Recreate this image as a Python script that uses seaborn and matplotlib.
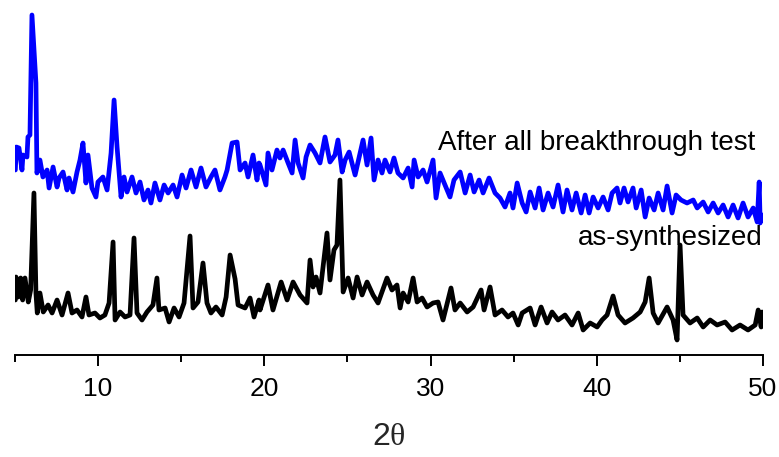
import matplotlib
matplotlib.use("Agg")
import matplotlib.pyplot as plt
import seaborn as sns
import pandas as pd
from matplotlib.ticker import MultipleLocator

# ---- data (2theta, intensity in arbitrary units) ----
after_2theta = [5.02, 5.08, 5.24, 5.42, 5.48, 5.72, 5.78, 5.90, 6.02, 6.26, 6.32, 6.50, 6.68, 6.93, 7.05,
                7.29, 7.53, 7.65, 7.89, 8.13, 8.25, 8.49, 8.73, 8.91, 9.09, 9.27, 9.39, 9.63, 9.87, 9.99,
                10.29, 10.54, 10.78, 10.96, 11.14, 11.38, 11.56, 11.74, 12.04, 12.28, 12.52, 12.76, 13.00,
                13.18, 13.42, 13.72, 13.97, 14.21, 14.51, 14.75, 15.05, 15.29, 15.59, 15.89, 16.19, 16.49,
                16.79, 17.03, 17.33, 17.63, 17.76, 18.06, 18.36, 18.54, 18.84, 19.02, 19.32, 19.56, 19.68,
                19.74, 20.10, 20.22, 20.46, 20.76, 20.94, 21.13, 21.43, 21.67, 21.85, 22.03, 22.33, 22.51,
                22.75, 23.05, 23.35, 23.65, 23.95, 24.25, 24.43, 24.68, 24.86, 25.10, 25.46, 25.76, 25.94,
                26.18, 26.42, 26.60, 26.84, 27.08, 27.26, 27.56, 27.80, 28.04, 28.35, 28.65, 28.89, 29.01,
                29.25, 29.55, 29.79, 30.15, 30.33, 30.57, 30.87, 31.17, 31.41, 31.78, 32.08, 32.38, 32.62,
                32.92, 33.16, 33.52, 33.88, 34.18, 34.48, 34.78, 34.96, 35.21, 35.51, 35.75, 35.99, 36.29,
                36.53, 36.77, 37.07, 37.37, 37.67, 37.97, 38.21, 38.51, 38.76, 39.06, 39.30, 39.54, 39.78,
                40.08, 40.38, 40.68, 40.92, 41.22, 41.40, 41.64, 41.88, 42.18, 42.37, 42.67, 42.91, 43.15,
                43.45, 43.69, 43.99, 44.23, 44.53, 44.77, 45.07, 45.43, 45.80, 46.04, 46.40, 46.70, 47.00,
                47.30, 47.60, 47.90, 48.20, 48.50, 48.80, 49.10, 49.41, 49.65, 49.77, 49.83, 49.95]
after_intensity = [185, 208, 207, 185, 200, 198, 218, 220, 340, 272, 182, 195, 178, 185, 167,
                   188, 168, 177, 183, 165, 177, 163, 183, 195, 212, 172, 200, 167, 158, 173,
                   178, 165, 202, 255, 208, 158, 178, 163, 178, 162, 173, 155, 165,
                   152, 172, 155, 170, 162, 170, 158, 180, 167, 185, 168, 187, 168,
                   178, 185, 165, 178, 185, 212, 213, 185, 192, 178, 200, 175, 192,
                   190, 170, 202, 185, 205, 197, 205, 192, 182, 215, 192, 177, 198,
                   210, 202, 192, 218, 193, 200, 215, 183, 195, 203, 180, 202, 215,
                   190, 217, 175, 195, 182, 195, 183, 197, 182, 177, 187, 168, 195,
                   178, 185, 173, 195, 157, 182, 170, 158, 175, 183, 162, 180, 163,
                   175, 162, 177, 162, 157, 148, 162, 147, 172, 152, 143, 163, 147,
                   167, 145, 162, 148, 170, 143, 165, 145, 162, 142, 160, 142, 158,
                   147, 158, 145, 162, 167, 152, 167, 153, 167, 147, 165, 138, 157,
                   145, 162, 145, 169, 142, 160, 155, 152, 155, 147, 153, 143, 152,
                   142, 150, 138, 150, 137, 152, 138, 147, 133, 173, 132, 140]

asyn_2theta = [5.02, 5.06, 5.20, 5.34, 5.46, 5.60, 5.80, 5.94, 6.14, 6.26, 6.34, 6.50, 6.70, 6.99, 7.23,
               7.53, 7.83, 8.19, 8.43, 8.73, 9.03, 9.27, 9.45, 9.81, 10.11, 10.41, 10.66, 10.90, 11.02,
               11.32, 11.62, 11.92, 12.16, 12.34, 12.64, 12.94, 13.30, 13.54, 13.66, 14.03, 14.27, 14.57,
               14.87, 15.17, 15.53, 15.71, 16.01, 16.31, 16.55, 16.79, 17.09, 17.46, 17.70, 17.94, 18.24,
               18.42, 18.84, 19.14, 19.38, 19.68, 19.74, 20.22, 20.52, 21.01, 21.37, 21.73, 22.15, 22.57,
               22.75, 22.93, 23.11, 23.35, 23.77, 23.95, 24.19, 24.37, 24.55, 24.74, 25.04, 25.34, 25.58,
               25.88, 26.18, 26.54, 26.84, 27.38, 27.68, 27.98, 28.17, 28.35, 28.65, 28.95, 29.19, 29.49,
               29.79, 30.15, 30.45, 30.75, 31.23, 31.47, 31.78, 32.20, 32.56, 33.04, 33.22, 33.58, 33.88,
               34.30, 34.66, 34.96, 35.27, 35.51, 35.99, 36.29, 36.65, 37.01, 37.31, 37.67, 38.09, 38.51,
               38.88, 39.18, 39.60, 40.02, 40.32, 40.62, 40.98, 41.28, 41.70, 42.18, 42.61, 42.91, 43.15,
               43.39, 43.69, 44.23, 44.59, 44.83, 45.01, 45.19, 45.61, 46.04, 46.40, 46.82, 47.24, 47.72,
               48.14, 48.62, 49.10, 49.53, 49.71, 49.89, 49.95]
asyn_intensity = [55, 78, 58, 77, 55, 77, 53, 65, 162, 62, 42, 62, 43, 50, 42,
                  55, 40, 62, 42, 45, 38, 58, 40, 42, 37, 40, 52, 113, 35,
                  43, 38, 40, 117, 42, 35, 43, 50, 77, 45, 47, 33, 47,
                  38, 52, 119, 47, 53, 92, 52, 42, 48, 40, 58, 100, 76,
                  50, 47, 57, 38, 55, 45, 70, 45, 73, 55, 73, 60, 52,
                  95, 68, 78, 62, 122, 75, 105, 110, 175, 63, 77, 57, 78,
                  60, 73, 60, 52, 77, 65, 70, 47, 62, 53, 77, 53, 57,
                  48, 52, 53, 35, 67, 45, 52, 43, 48, 65, 45, 68, 40,
                  45, 38, 42, 30, 42, 47, 30, 48, 32, 43, 35, 40, 30,
                  42, 25, 32, 28, 35, 40, 59, 40, 32, 37, 43, 53, 77,
                  42, 32, 48, 35, 15, 110, 40, 32, 37, 28, 35, 30, 33,
                  25, 30, 25, 30, 45, 28, 43]

series_labels = ["After all breakthrough test", "as-synthesized"]
series_colors = ["#0000ff", "#000000"]
x_ticks = [10, 20, 30, 40, 50]

df = pd.concat([
    pd.DataFrame({"two_theta": after_2theta, "intensity": after_intensity, "sample": series_labels[0]}),
    pd.DataFrame({"two_theta": asyn_2theta, "intensity": asyn_intensity, "sample": series_labels[1]}),
], ignore_index=True)

sns.set_style("white")
plt.rcParams["font.family"] = ["Liberation Sans", "DejaVu Sans"]
plt.rcParams["mathtext.fontset"] = "custom"
plt.rcParams["mathtext.rm"] = "Liberation Sans"
plt.rcParams["mathtext.it"] = "Liberation Serif"

fig = plt.figure(figsize=(7.79, 4.57), dpi=100)
ax = fig.add_axes([15 / 779, 102 / 457, 748 / 779, 345 / 457])

sns.lineplot(data=df, x="two_theta", y="intensity", hue="sample",
             palette=dict(zip(series_labels, series_colors)), estimator=None,
             linewidth=3.4, legend=False, ax=ax)
for ln in ax.lines:
    ln.set_solid_joinstyle("round")
    ln.set_solid_capstyle("round")

ax.set_xlim(5, 50)
ax.set_ylim(0, 345)
ax.set_xticks(x_ticks)
ax.xaxis.set_minor_locator(MultipleLocator(5))
ax.set_yticks([])
for s in ["left", "top", "right"]:
    ax.spines[s].set_visible(False)
ax.spines["bottom"].set_linewidth(1.4)
ax.spines["bottom"].set_color("black")
ax.tick_params(axis="x", which="major", direction="out", length=8, width=1.4,
               labelsize=19, pad=8, colors="black", bottom=True)
ax.tick_params(axis="x", which="minor", direction="out", length=5, width=1.4,
               colors="black", bottom=True)
ax.set_xlabel(r"2$\theta$", fontsize=23, labelpad=15)
ax.set_ylabel("")

ax.text(49.52, 205, series_labels[0], ha="right", va="baseline", fontsize=20, color="black")
ax.text(49.95, 110, series_labels[1], ha="right", va="baseline", fontsize=20, color="black")

fig.savefig("out.png", dpi=100)
